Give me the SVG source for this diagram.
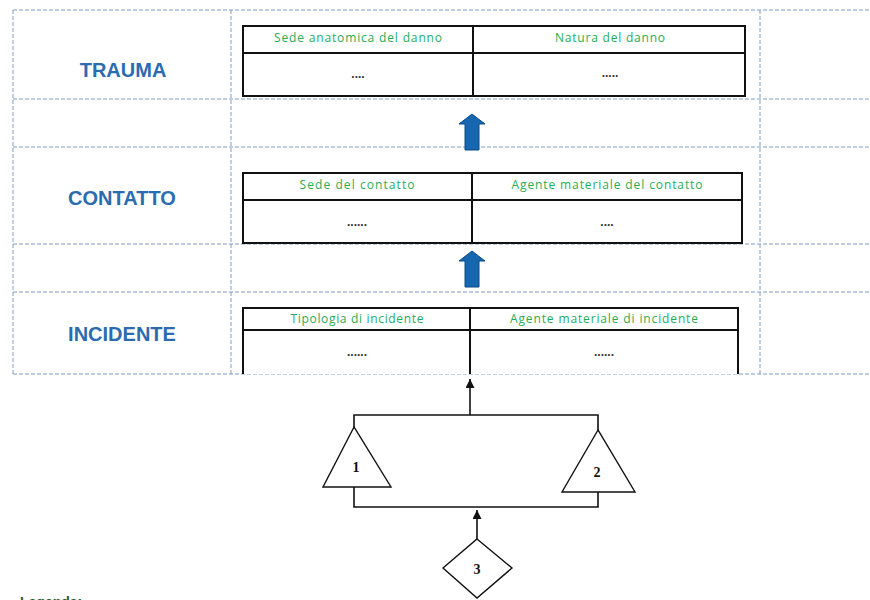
<svg xmlns="http://www.w3.org/2000/svg" width="870" height="600" viewBox="0 0 870 600">
<defs>
<style>
.grid{stroke:#7f9cc4;stroke-width:1;stroke-dasharray:4 2;fill:none}
.tbl{stroke:#111;stroke-width:2;fill:#fff}
.row{font-family:"Liberation Sans",Arial,sans-serif;font-weight:bold;font-size:20px;fill:#2b6cb0;text-anchor:middle}
.hdr{font-family:"Open Sans","Liberation Sans",sans-serif;font-size:12px;fill:#1fae55;text-anchor:middle}
.dots{font-family:"Liberation Sans",sans-serif;font-weight:bold;font-size:12px;fill:#333;text-anchor:middle}
.ln{stroke:#111;stroke-width:1.6;fill:none}
.shape{stroke:#111;stroke-width:1.4;fill:#fff}
.num{font-family:"Liberation Serif","Times New Roman",serif;font-weight:bold;font-size:14px;fill:#111;text-anchor:middle}
.blue{fill:#1666b0;stroke:#0d4a86;stroke-width:1}
.leg{font-family:"Liberation Sans",sans-serif;font-weight:bold;font-size:14px;fill:#2a5a2a}
</style>
<marker id="ah" viewBox="0 0 10 10" refX="10" refY="5" markerWidth="9" markerHeight="9" orient="auto" markerUnits="userSpaceOnUse">
<path d="M0,0 L10,5 L0,10 Z" fill="#111"/>
</marker>
</defs>

<g id="grid">
<line class="grid" x1="13" y1="10" x2="870" y2="10"/>
<line class="grid" x1="13" y1="99" x2="870" y2="99"/>
<line class="grid" x1="13" y1="147" x2="870" y2="147"/>
<line class="grid" x1="13" y1="244" x2="870" y2="244"/>
<line class="grid" x1="13" y1="292" x2="870" y2="292"/>
<line class="grid" x1="13" y1="374" x2="870" y2="374"/>
<line class="grid" x1="13" y1="10" x2="13" y2="374"/>
<line class="grid" x1="231" y1="10" x2="231" y2="374"/>
<line class="grid" x1="760" y1="10" x2="760" y2="374"/>
</g>

<g id="trauma">
<text class="row" x="123" y="77">TRAUMA</text>
<rect class="tbl" x="243" y="26" width="502" height="70"/>
<line class="tbl" x1="243" y1="53" x2="745" y2="53"/>
<line class="tbl" x1="473" y1="26" x2="473" y2="96"/>
<text class="hdr" x="358" y="42" textLength="168">Sede anatomica del danno</text>
<text class="hdr" x="610" y="42" textLength="110">Natura del danno</text>
<text class="dots" x="358" y="78">....</text>
<text class="dots" x="610" y="77">.....</text>
</g>

<g id="contatto">
<text class="row" x="122" y="205">CONTATTO</text>
<rect class="tbl" x="243" y="173" width="499" height="70"/>
<line class="tbl" x1="243" y1="200" x2="742" y2="200"/>
<line class="tbl" x1="472" y1="173" x2="472" y2="243"/>
<text class="hdr" x="357" y="189" textLength="115">Sede del contatto</text>
<text class="hdr" x="607" y="189" textLength="191">Agente materiale del contatto</text>
<text class="dots" x="357" y="226">......</text>
<text class="dots" x="607" y="226">....</text>
</g>

<g id="incidente">
<text class="row" x="122" y="341">INCIDENTE</text>
<path class="tbl" d="M243,374 V308 H738 V374"/>
<line class="tbl" x1="243" y1="330" x2="738" y2="330"/>
<line class="tbl" x1="470" y1="308" x2="470" y2="374"/>
<text class="hdr" x="357" y="323" textLength="133">Tipologia di incidente</text>
<text class="hdr" x="604" y="323" textLength="188">Agente materiale di incidente</text>
<text class="dots" x="357" y="356">......</text>
<text class="dots" x="604" y="356">......</text>
</g>

<g id="n1">
<polygon class="shape" points="354,427 323,487 391,487"/>
<text class="num" x="356" y="472">1</text>
</g>
<g id="n2">
<polygon class="shape" points="598,430 562,492 635,492"/>
<text class="num" x="597" y="477">2</text>
</g>
<g id="n3">
<polygon class="shape" points="477,539 512,568 477,598 443,568"/>
<text class="num" x="477" y="574">3</text>
</g>

<g id="connectors">
<path class="blue" d="M465,150 V124 H459 L472,114 L485,124 H479 V150 Z"/>
<path class="blue" d="M465,287 V261 H459 L472,251 L485,261 H479 V287 Z"/>
<path class="ln" d="M354,427 V415 H598 V430"/>
<line class="ln" x1="470" y1="415" x2="470" y2="379" marker-end="url(#ah)"/>
<path class="ln" d="M354,487 V507 H598 V492"/>
<line class="ln" x1="477" y1="539" x2="477" y2="510" marker-end="url(#ah)"/>
</g>

<g id="legend">
<text class="leg" x="20" y="607">Legenda:</text>
</g>
</svg>
